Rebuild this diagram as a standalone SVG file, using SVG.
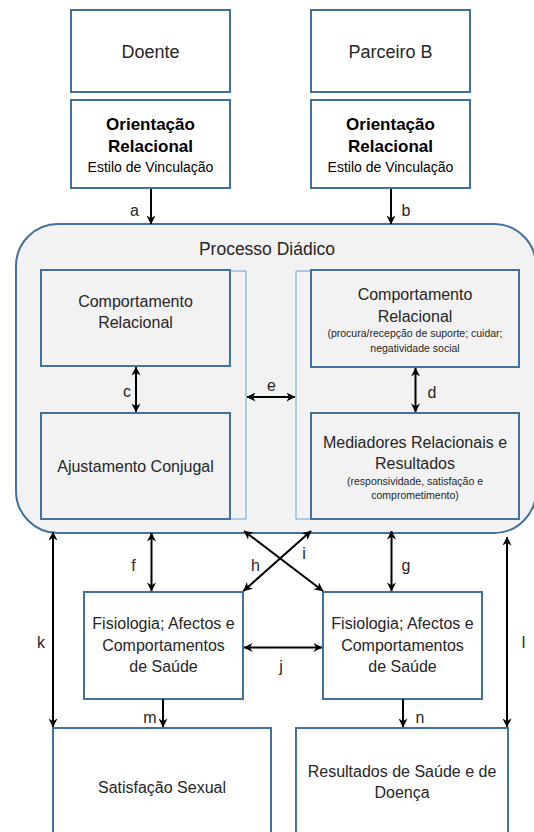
<svg xmlns="http://www.w3.org/2000/svg" width="534" height="832" viewBox="0 0 534 832">
<defs>
<marker id="ah" viewBox="0 0 10 10" refX="9.5" refY="5" markerWidth="4.5" markerHeight="4.5" markerUnits="strokeWidth" orient="auto-start-reverse">
<path d="M0,0 L10,5 L0,10 L3,5 z" fill="#000"/>
</marker>
<style>
.box{fill:#fff;stroke:#41719c;stroke-width:2}
.ibox{fill:#f2f2f2;stroke:#41719c;stroke-width:2}
.brk{fill:none;stroke:#6e9fd2;stroke-width:1}
.t{font-family:"Liberation Sans",Arial,sans-serif;fill:#262626;text-anchor:middle;font-size:16px}
.tb{font-family:"Liberation Sans",Arial,sans-serif;fill:#000;text-anchor:middle;font-size:17px;font-weight:bold}
.ts{font-family:"Liberation Sans",Arial,sans-serif;fill:#000;text-anchor:middle;font-size:14px}
.tx{font-family:"Liberation Sans",Arial,sans-serif;fill:#262626;text-anchor:middle;font-size:10.5px}
.lb{font-family:"Liberation Sans",Arial,sans-serif;fill:#262626;text-anchor:middle;font-size:16px}
.c{stroke:#000;stroke-width:2;fill:none;marker-end:url(#ah)}
.c2{stroke:#000;stroke-width:2;fill:none;marker-end:url(#ah);marker-start:url(#ah)}
</style>
</defs>
<rect width="534" height="832" fill="#fff"/>

<g id="processo-diadico">
<rect x="16" y="224" width="520" height="309" rx="42" ry="42" fill="#f2f2f2" stroke="#41719c" stroke-width="2"/>
<text class="t" x="267" y="255" style="font-size:17.5px">Processo Diádico</text>
<path class="brk" d="M230,271 H246 V519 H230"/>
<path class="brk" d="M311,271 H296 V519 H311"/>
</g>

<g id="doente">
<rect class="box" x="71" y="10" width="159" height="82"/>
<text class="t" x="150.5" y="58" style="font-size:18px">Doente</text>
</g>
<g id="parceiro-b">
<rect class="box" x="311" y="10" width="159" height="82"/>
<text class="t" x="390.5" y="58" style="font-size:18px">Parceiro B</text>
</g>
<g id="orientacao-doente">
<rect class="box" x="71" y="100" width="159" height="88"/>
<text class="tb" x="150.5" y="130">Orientação</text>
<text class="tb" x="150.5" y="152">Relacional</text>
<text class="ts" x="150.5" y="172">Estilo de Vinculação</text>
</g>
<g id="orientacao-parceiro">
<rect class="box" x="311" y="100" width="159" height="88"/>
<text class="tb" x="390.5" y="130">Orientação</text>
<text class="tb" x="390.5" y="152">Relacional</text>
<text class="ts" x="390.5" y="172">Estilo de Vinculação</text>
</g>

<g id="comportamento-relacional-doente">
<rect class="ibox" x="41" y="270" width="189" height="96"/>
<text class="t" x="135.5" y="307">Comportamento</text>
<text class="t" x="135.5" y="328">Relacional</text>
</g>
<g id="ajustamento-conjugal">
<rect class="ibox" x="41" y="413" width="189" height="106"/>
<text class="t" x="135.5" y="472">Ajustamento Conjugal</text>
</g>
<g id="comportamento-relacional-parceiro">
<rect class="ibox" x="311" y="270" width="208" height="97"/>
<text class="t" x="415" y="300">Comportamento</text>
<text class="t" x="415" y="322">Relacional</text>
<text class="tx" x="415" y="337">(procura/recepção de suporte; cuidar;</text>
<text class="tx" x="415" y="352">negatividade social</text>
</g>
<g id="mediadores">
<rect class="ibox" x="311" y="413" width="208" height="106"/>
<text class="t" x="415" y="448">Mediadores Relacionais e</text>
<text class="t" x="415" y="469">Resultados</text>
<text class="tx" x="415" y="485">(responsividade, satisfação e</text>
<text class="tx" x="415" y="499">comprometimento)</text>
</g>

<g id="fisiologia-doente">
<rect class="box" x="84" y="592" width="159" height="107"/>
<text class="t" x="163.5" y="629">Fisiologia; Afectos e</text>
<text class="t" x="163.5" y="651">Comportamentos</text>
<text class="t" x="163.5" y="672">de Saúde</text>
</g>
<g id="fisiologia-parceiro">
<rect class="box" x="323" y="592" width="159" height="107"/>
<text class="t" x="402.5" y="629">Fisiologia; Afectos e</text>
<text class="t" x="402.5" y="651">Comportamentos</text>
<text class="t" x="402.5" y="672">de Saúde</text>
</g>
<g id="satisfacao-sexual">
<rect class="box" x="53" y="728" width="218" height="120"/>
<text class="t" x="162" y="793">Satisfação Sexual</text>
</g>
<g id="resultados-saude">
<rect class="box" x="296" y="728" width="212" height="120"/>
<text class="t" x="402" y="777">Resultados de Saúde e de</text>
<text class="t" x="402" y="798">Doença</text>
</g>

<g id="connectors">
<line class="c" x1="151" y1="189" x2="151" y2="224"/>
<line class="c" x1="391" y1="189" x2="391" y2="224"/>
<line class="c2" x1="136" y1="367" x2="136" y2="412"/>
<line class="c2" x1="415.5" y1="368" x2="415.5" y2="412"/>
<line class="c2" x1="247" y1="397" x2="295" y2="397"/>
<line class="c2" x1="151.5" y1="533" x2="151.5" y2="591"/>
<line class="c2" x1="391.5" y1="531" x2="391.5" y2="591"/>
<line class="c2" x1="243.5" y1="591" x2="311" y2="531"/>
<line class="c2" x1="244" y1="531" x2="323" y2="591"/>
<line class="c2" x1="244" y1="647.5" x2="322" y2="647.5"/>
<line class="c2" x1="53" y1="532" x2="53" y2="727"/>
<line class="c2" x1="507" y1="537" x2="507" y2="727"/>
<line class="c" x1="163" y1="699" x2="163" y2="727"/>
<line class="c" x1="403" y1="699" x2="403" y2="727"/>
<text class="lb" x="134.5" y="216">a</text>
<text class="lb" x="406" y="216">b</text>
<text class="lb" x="127" y="397">c</text>
<text class="lb" x="432" y="398">d</text>
<text class="lb" x="271.5" y="391">e</text>
<text class="lb" x="133.5" y="571">f</text>
<text class="lb" x="406" y="571">g</text>
<text class="lb" x="255.5" y="571">h</text>
<text class="lb" x="304" y="559">i</text>
<text class="lb" x="281" y="672">j</text>
<text class="lb" x="41" y="648">k</text>
<text class="lb" x="523.5" y="648">l</text>
<text class="lb" x="150" y="723">m</text>
<text class="lb" x="420" y="723">n</text>
</g>
</svg>
